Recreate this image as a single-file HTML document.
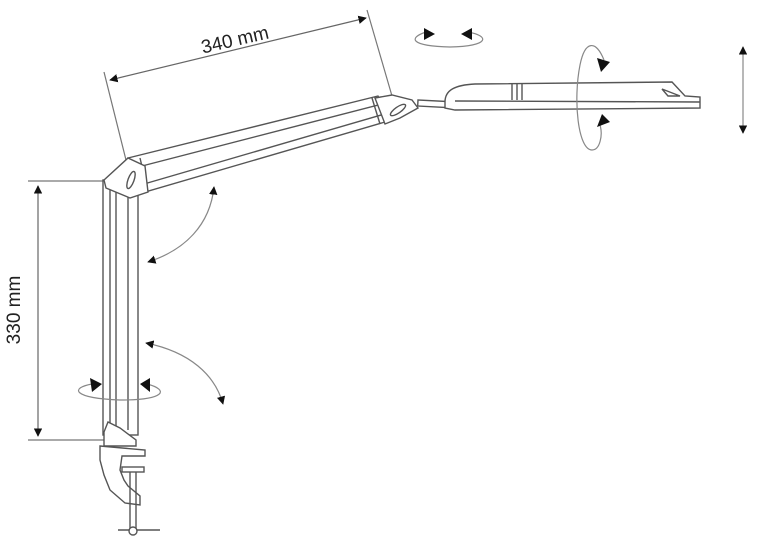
<!DOCTYPE html>
<html><head><style>body{margin:0;background:#fff}svg{display:block}</style></head><body>
<svg width="768" height="545" viewBox="0 0 768 545" xmlns="http://www.w3.org/2000/svg" font-family="Liberation Sans, sans-serif">
<defs><marker id="a" viewBox="0 0 10 10" refX="9" refY="5" markerWidth="7" markerHeight="7" orient="auto-start-reverse"><path d="M0,0L10,5L0,10z" fill="#111"/></marker></defs>
<g stroke="#777" fill="none" stroke-width="1.2">
<line x1="104" y1="72" x2="126" y2="160"/>
<line x1="367" y1="10" x2="392" y2="96"/>
<line x1="110" y1="80" x2="366" y2="18" stroke="#666" marker-start="url(#a)" marker-end="url(#a)"/>
<line x1="28" y1="181" x2="108" y2="181"/>
<line x1="28" y1="440" x2="110" y2="440"/>
<line x1="38" y1="186" x2="38" y2="436" stroke="#666" marker-start="url(#a)" marker-end="url(#a)"/>
</g>
<text x="235" y="46" font-size="19" fill="#222" text-anchor="middle" transform="rotate(-13 235 40)">340 mm</text>
<text x="20" y="310" font-size="19" fill="#222" text-anchor="middle" transform="rotate(-90 20 310)">330 mm</text>
<g stroke="#555" fill="#fff" stroke-width="1.4">
<rect x="103" y="180" width="35" height="255" fill="#fff"/>
<line x1="110" y1="185" x2="110" y2="430"/>
<line x1="116" y1="185" x2="116" y2="430"/>
<line x1="128" y1="185" x2="128" y2="430"/>
<polygon points="128,158 378,96 392,120 145,192"/>
<line x1="142" y1="166" x2="382" y2="104"/>
<line x1="144" y1="184" x2="388" y2="113"/>
<line x1="140" y1="158" x2="148" y2="192"/>
<line x1="372" y1="98" x2="380" y2="124"/>
<polygon points="104,180 128,158 145,166 148,192 130,198 106,188"/>
<ellipse cx="131" cy="180" rx="3" ry="9" transform="rotate(20 131 180)"/>
<polygon points="375,98 392,95 412,100 418,108 400,118 385,124"/>
<ellipse cx="398" cy="110" rx="9" ry="3" transform="rotate(-35 398 110)"/>
<rect x="418" y="100" width="40" height="6" transform="rotate(3 418 100)"/>
<path d="M445,102 C445,90 455,85 475,84 L672,82 L685,96 L700,97 L700,108 L455,110 L445,108z"/>
<line x1="455" y1="101" x2="700" y2="102"/>
<line x1="512" y1="84" x2="512" y2="100"/>
<line x1="517" y1="84" x2="517" y2="100"/>
<line x1="522" y1="84" x2="522" y2="100"/>
<path d="M662,89 L680,96 L668,96z"/>
<path d="M104,432 L108,422 L120,428 L136,440 L136,446 L104,446z"/>
<path d="M100,446 L145,450 L145,456 L122,456 L120,470 L124,480 L128,486 L140,496 L140,505 L125,503 L110,490 L104,475 L100,460z"/>
<line x1="130" y1="470" x2="130" y2="530"/>
<line x1="136" y1="472" x2="136" y2="530"/>
<rect x="122" y="467" width="22" height="5"/>
<line x1="118" y1="530" x2="160" y2="530"/>
<circle cx="133" cy="531" r="4"/>
</g>
<g stroke="#888" fill="none" stroke-width="1.2">
<path d="M214,187 C210,225 185,250 148,262" marker-start="url(#a)" marker-end="url(#a)"/>
<path d="M146,343 C190,352 215,375 223,404" marker-start="url(#a)" marker-end="url(#a)"/>
<path d="M92,384 C70,388 72,398 120,400 C165,400 170,390 147,384"/>
<path d="M426,32 C408,38 410,46 450,47 C490,46 490,36 468,32"/>
<path d="M604,60 C596,40 585,40 580,65 C573,100 578,150 592,150 C600,150 603,135 600,125"/>
<line x1="743" y1="47" x2="743" y2="133" marker-start="url(#a)" marker-end="url(#a)"/>
</g>
<g fill="#111">
<path d="M90,378 L102,384 L92,392z"/>
<path d="M150,378 L140,384 L150,392z"/>
<path d="M424,28 L435,34 L424,40z"/>
<path d="M472,28 L461,34 L472,40z"/>
<path d="M597,58 L610,62 L601,72z"/>
<path d="M597,127 L610,122 L602,114z"/>
</g>
</svg>
</body></html>
